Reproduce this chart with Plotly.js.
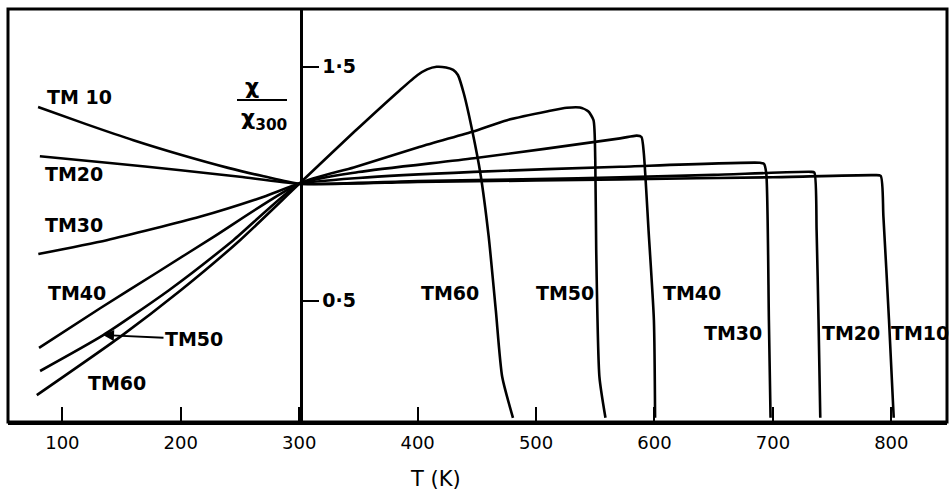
<!DOCTYPE html>
<html>
<head>
<meta charset="utf-8">
<script src="https://cdn.plot.ly/plotly-3.0.1.min.js"></script>
<style>html,body{margin:0;padding:0;background:#fff;}</style>
</head>
<body>
<div id="chart" style="width:949px;height:494px;"></div>
<script>
// ---- data (T in K, chi / chi300) ----
const tm10T   = [79.5, 120, 160, 200, 240, 270, 300, 400, 500, 571, 700, 785, 791, 793.3, 798, 802];
const tm10Chi = [1.328, 1.255, 1.186, 1.124, 1.068, 1.032, 1.0, 1.008, 1.014, 1.019, 1.028, 1.037, 1.034, 0.86, 0.42, 0.0];

const tm20T   = [81, 140, 200, 250, 300, 400, 500, 571, 650, 732, 735, 736.9, 738.5, 740];
const tm20Chi = [1.118, 1.089, 1.058, 1.03, 1.0, 1.012, 1.02, 1.028, 1.038, 1.051, 1.048, 0.8, 0.42, 0.0];

const tm30T   = [79.7, 137.5, 216, 272, 300, 350, 447.5, 571, 689, 692.5, 694.4, 696.6, 698];
const tm30Chi = [0.70, 0.759, 0.859, 0.948, 1.0, 1.025, 1.051, 1.073, 1.09, 1.085, 1.044, 0.417, 0.0];

const tm40T   = [80.3, 131.9, 180, 227.4, 300, 350, 447.5, 571, 585, 589, 591, 595, 599.5, 600.5];
const tm40Chi = [0.299, 0.468, 0.621, 0.772, 1.0, 1.05, 1.109, 1.194, 1.206, 1.2, 1.13, 0.8, 0.417, 0.0];

const tm50T   = [81.2, 134.5, 190, 244.4, 300, 346, 400, 446, 475.6, 510, 526, 537, 544, 548.5, 550, 550.8, 553.5, 558.6];
const tm50Chi = [0.200, 0.353, 0.545, 0.759, 1.0, 1.07, 1.155, 1.222, 1.272, 1.31, 1.325, 1.326, 1.31, 1.272, 1.1, 0.717, 0.175, 0.0];

const tm60T   = [78.4, 148.8, 200, 250, 300, 346, 385, 400, 408, 416, 424, 430, 434, 439, 446, 453, 460, 466, 471.4, 480.5];
const tm60Chi = [0.097, 0.346, 0.545, 0.759, 1.0, 1.22, 1.40, 1.465, 1.489, 1.5, 1.497, 1.487, 1.465, 1.386, 1.23, 1.044, 0.774, 0.46, 0.175, 0.0];

const xTickVals = [100, 200, 300, 400, 500, 600, 700, 800];
const xTickText = ['100', '200', '300', '400', '500', '600', '700', '800'];
const yTickVals = [0.5, 1.5];
const yTickText = ['0·5', '1·5'];
const seriesNames = ['TM10', 'TM20', 'TM30', 'TM40', 'TM50', 'TM60'];

// ---- layout helpers ----
const X0 = 54.1, X1 = 847, Y0 = -0.018, Y1 = 1.747;
const L = 8, T = 9, W = 939, H = 413;
function px2x(px) { return X0 + (px - L) * (X1 - X0) / W; }
function py2y(py) { return Y1 - (py - T) * (Y1 - Y0) / H; }

const allT = [tm10T, tm20T, tm30T, tm40T, tm50T, tm60T];
const allC = [tm10Chi, tm20Chi, tm30Chi, tm40Chi, tm50Chi, tm60Chi];
const traces = allT.map((t, i) => ({
  x: t, y: allC[i], name: seriesNames[i], type: 'scatter', mode: 'lines',
  line: {color: '#000', width: 2.6, shape: 'spline', smoothing: 0.6}, hoverinfo: 'skip'
}));

const FAM = '"DejaVu Sans", Lato, sans-serif';
const labFont = {family: FAM, size: 19, color: '#000', weight: 'bold'};
function lab(text, px, py) {
  return {text: text, x: px2x(px), y: py2y(py), xref: 'x', yref: 'y', showarrow: false,
          xanchor: 'center', yanchor: 'middle', font: labFont};
}
const annotations = [
  lab('TM 10', 79, 97),
  lab('TM20', 74, 174),
  lab('TM30', 74, 225),
  lab('TM40', 77, 293),
  lab('TM60', 117, 383),
  lab('TM60', 450, 293),
  lab('TM50', 565, 293),
  lab('TM40', 692, 293),
  lab('TM30', 733, 333),
  lab('TM20', 851, 333),
  lab('TM10', 920, 333),
  {text: 'TM50', x: px2x(103), y: py2y(335), xref: 'x', yref: 'y', showarrow: true,
   ax: 91, ay: 4, arrowhead: 2, arrowsize: 1.1, arrowwidth: 2, arrowcolor: '#000',
   standoff: 0, font: labFont},
  {text: 'χ', x: px2x(252), y: py2y(86), xref: 'x', yref: 'y', showarrow: false,
   font: {family: FAM, size: 22, color: '#000', weight: 'bold'}},
  {text: 'χ<sub>300</sub>', x: px2x(264), y: py2y(119), xref: 'x', yref: 'y', showarrow: false,
   font: {family: FAM, size: 22, color: '#000', weight: 'bold'}},
  {text: 'T (K)', x: (435 - L) / W, y: (T + H - 479) / H, xref: 'paper', yref: 'paper',
   showarrow: false, xanchor: 'center', yanchor: 'middle',
   font: {family: FAM, size: 21, color: '#000'}}
];

const layout = {
  width: 949, height: 494,
  margin: {l: L, r: 949 - L - W, t: T, b: 494 - T - H, pad: 0},
  paper_bgcolor: '#fff', plot_bgcolor: '#fff',
  showlegend: false,
  xaxis: {
    range: [X0, X1], tickvals: xTickVals, ticktext: xTickText,
    ticks: 'inside', ticklen: 15, tickwidth: 2, tickcolor: '#000',
    showline: true, linewidth: 3, linecolor: '#000', mirror: false,
    showgrid: false, zeroline: false, ticklabelstandoff: 2,
    tickfont: {family: FAM, size: 18, color: '#000'}
  },
  yaxis: {
    range: [Y0, Y1], anchor: 'free', position: (301 - L) / W, side: 'right',
    tickvals: yTickVals, ticktext: yTickText,
    ticks: 'outside', ticklen: 16, tickwidth: 2, tickcolor: '#000',
    showline: true, linewidth: 2.5, linecolor: '#000',
    showgrid: false, zeroline: false,
    tickfont: {family: FAM, size: 19, color: '#000', weight: 'bold'}
  },
  shapes: [
    {type: 'rect', xref: 'paper', yref: 'paper', x0: 0, x1: 1, y0: 0, y1: 1,
     line: {color: '#000', width: 3}},
    {type: 'line', xref: 'x', yref: 'y', x0: px2x(237), x1: px2x(287), y0: py2y(100), y1: py2y(100),
     line: {color: '#000', width: 2}}
  ],
  annotations: annotations
};

Plotly.newPlot('chart', traces, layout, {displayModeBar: false, staticPlot: true});
</script>
</body>
</html>
